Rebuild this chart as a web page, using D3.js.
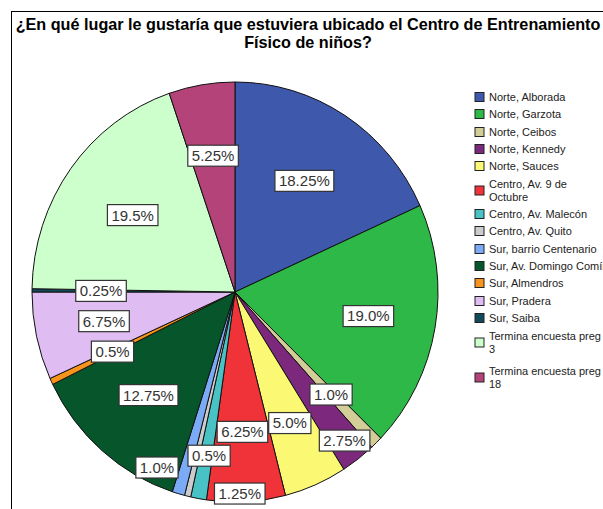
<!DOCTYPE html>
<html><head><meta charset="utf-8">
<script src="https://cdn.jsdelivr.net/npm/d3@7"></script>
<style>body{margin:0;background:#fff;}svg{display:block;}</style>
</head><body>
<svg id="c" width="603" height="509"></svg>
<script>
const categories = ["Norte, Alborada","Norte, Garzota","Norte, Ceibos","Norte, Kennedy","Norte, Sauces","Centro, Av. 9 de Octubre","Centro, Av. Malecón","Centro, Av. Quito","Sur, barrio Centenario","Sur, Av. Domingo Comín","Sur, Almendros","Sur, Pradera","Sur, Saiba","Termina encuesta preg 3","Termina encuesta preg 18"];
const legendLines = [["Norte, Alborada"],["Norte, Garzota"],["Norte, Ceibos"],["Norte, Kennedy"],["Norte, Sauces"],["Centro, Av. 9 de","Octubre"],["Centro, Av. Malecón"],["Centro, Av. Quito"],["Sur, barrio Centenario"],["Sur, Av. Domingo Comín"],["Sur, Almendros"],["Sur, Pradera"],["Sur, Saiba"],["Termina encuesta preg","3"],["Termina encuesta preg","18"]];
const values = [18.25,19.0,1.0,2.75,5.0,6.25,1.25,0.5,1.0,12.75,0.5,6.75,0.25,19.5,5.25];
const valueLabels = ["18.25%","19.0%","1.0%","2.75%","5.0%","6.25%","1.25%","0.5%","1.0%","12.75%","0.5%","6.75%","0.25%","19.5%","5.25%"];
const colors = ["#3e58ac","#2eb848","#d3ce97","#7c287d","#fbf873","#ef3338","#48c2c5","#cccccc","#7baaf7","#07562b","#f7941d","#dfbcf2","#124a5c","#ccffcc","#b4437a"];
const titleLines = ["¿En qué lugar le gustaría que estuviera ubicado el Centro de Entrenamiento","Físico de niños?"];
// label placement (radial fraction, angular shift in degrees)
const labelRadius = [0.63,0.667,0.68,0.89,0.68,0.667,0.96,0.79,0.92,0.65,0.667,0.66,0.66,0.623,0.658];
const labelShift = [0,0,0,0,0,0,-11.75,-4.2,8.5,0,0,0,0,0,0];

const svg = d3.select("#c");
// frame
svg.append("rect").attr("x",11.5).attr("y",11.5).attr("width",620).attr("height",520)
  .attr("fill","none").attr("stroke","#000").attr("stroke-width",1);
// title
svg.selectAll("text.title").data(titleLines).join("text").attr("class","title")
  .attr("x",308).attr("y",(d,i)=>30+i*18).attr("text-anchor","middle")
  .attr("font-family","Liberation Sans, Arial, sans-serif").attr("font-weight","bold")
  .attr("font-size",16.2).attr("fill","#000").text(d=>d);

const cx=235, cy=292, rx=203, ry=210;
const pie = d3.pie().sort(null).value(d=>d)(values);
const arc = d3.arc().innerRadius(0).outerRadius(ry);
const g = svg.append("g").attr("transform",`translate(${cx},${cy}) scale(${rx/ry},1)`);
g.selectAll("path").data(pie).join("path")
  .attr("d",arc).attr("fill",(d,i)=>colors[i])
  .attr("stroke","#111").attr("stroke-width",1).attr("vector-effect","non-scaling-stroke")
  .attr("stroke-linejoin","round");

// labels
const lg = svg.append("g");
pie.forEach((d,i)=>{
  const a = (d.startAngle+d.endAngle)/2 + labelShift[i]*Math.PI/180;
  const x = cx + rx*labelRadius[i]*Math.sin(a);
  const y = cy - ry*labelRadius[i]*Math.cos(a);
  const grp = lg.append("g").attr("transform",`translate(${x},${y})`);
  const t = grp.append("text").attr("text-anchor","middle").attr("dy","0.36em")
    .attr("font-family","Liberation Sans, Arial, sans-serif").attr("font-size",15)
    .attr("fill","#333").text(valueLabels[i]);
  const bb = t.node().getBBox();
  grp.insert("rect","text").attr("x",bb.x-4).attr("y",-10.5).attr("width",bb.width+8).attr("height",21)
    .attr("fill","#fff").attr("stroke","#333").attr("stroke-width",1.2);
});

// legend
const legY = [97,114,132,149,166,184,214,231,249,266,283,301,318,336,371];
const leg = svg.append("g");
legendLines.forEach((lines,i)=>{
  const y0 = legY[i];
  const sy = lines.length>1 ? y0+6.5 : y0;
  leg.append("rect").attr("x",475).attr("y",sy-4.5).attr("width",9).attr("height",9)
    .attr("fill",colors[i]).attr("stroke","#222").attr("stroke-width",1);
  lines.forEach((l,j)=>{
    leg.append("text").attr("x",489).attr("y",y0+j*13).attr("dy","0.35em")
      .attr("font-family","Liberation Sans, Arial, sans-serif").attr("font-size",11)
      .attr("fill","#222").text(l);
  });
});
</script>
</body></html>
